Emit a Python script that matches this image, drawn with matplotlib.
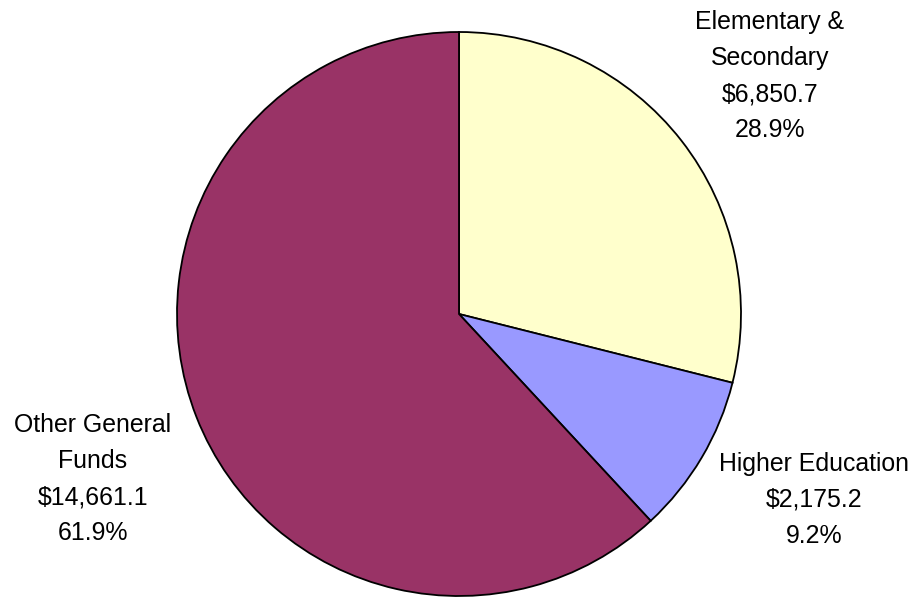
import matplotlib
matplotlib.use("Agg")
import matplotlib.pyplot as plt

categories = ["Elementary &\nSecondary", "Higher Education", "Other General\nFunds"]
values = [6850.7, 2175.2, 14661.1]
colors = ["#FFFFCC", "#9999FF", "#993366"]

plt.rcParams['font.family'] = ['Liberation Sans', 'DejaVu Sans']

W, H = 917, 597
fig = plt.figure(figsize=(W / 100, H / 100), dpi=100)
cx, cy, r = 459, 314, 282
ax = fig.add_axes([(cx - r) / W, (H - cy - r) / H, 2 * r / W, 2 * r / H])
ax.pie(values, colors=colors, startangle=90, counterclock=False,
       wedgeprops=dict(edgecolor="black", linewidth=1.3), radius=1.0)
ax.set_xlim(-1, 1)
ax.set_ylim(-1, 1)
ax.set_aspect("equal")
ax.axis("off")

total = sum(values)
label_pos = [(770, 76), (814, 500), (93, 479)]
for cat, v, (px, py) in zip(categories, values, label_pos):
    txt = f"{cat}\n${v:,.1f}\n{100 * v / total:.1f}%"
    fig.text(px / W, 1 - py / H, txt, ha="center", va="center",
             fontsize=17.9, linespacing=1.64, color="black")

fig.savefig("out.png", dpi=100)
